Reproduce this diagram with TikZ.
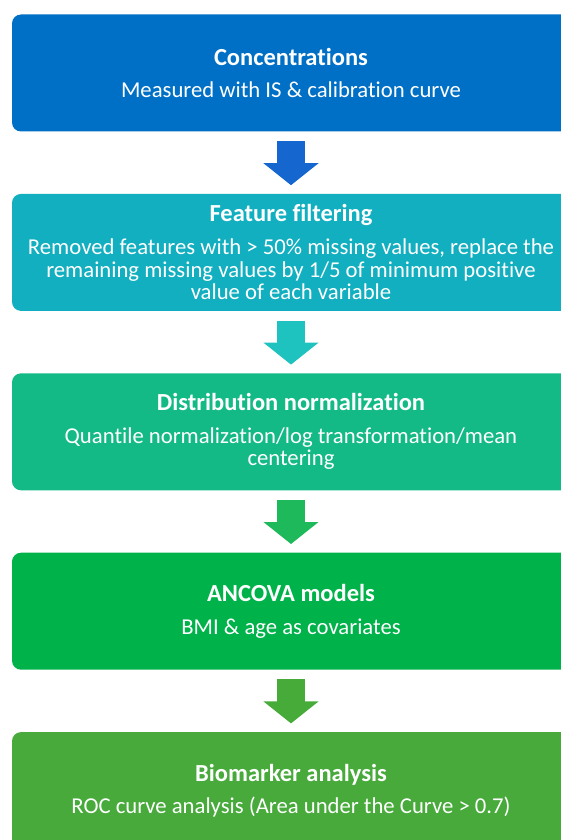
\documentclass[tikz,border=0pt]{standalone}
\usepackage{fontspec}
\setmainfont{Carlito}[Ligatures=NoCommon]
\usepackage{tikz}
\usetikzlibrary{positioning, arrows.meta}

\definecolor{boxA}{HTML}{0070C6}
\definecolor{boxB}{HTML}{12AFC0}
\definecolor{boxC}{HTML}{14BA86}
\definecolor{boxD}{HTML}{00B24A}
\definecolor{boxE}{HTML}{47AA3B}
\definecolor{arrA}{HTML}{1567CF}
\definecolor{arrB}{HTML}{1EC2BE}
\definecolor{arrC}{HTML}{1DB95A}
\definecolor{arrD}{HTML}{47AB3A}

\newcommand{\stagetitle}[1]{{\bfseries\fontsize{24.5}{24.5}\selectfont #1}\\[9.5pt]}

\begin{document}
\begin{tikzpicture}[x=1pt, y=-1pt,
  node distance=62pt,
  stage/.style={fill=#1, text=white, rounded corners=9pt,
    minimum width=558pt, minimum height=117pt, inner sep=0pt,
    align=center, font=\fontsize{22.7}{22.8}\selectfont},
  flow/.style={draw=#1, line width=28pt,
    -{Triangle[length=22pt, width=54pt]},
    shorten <=9.5pt, shorten >=8.5pt}]
\useasboundingbox (0,0) rectangle (561,840);
\clip (0,0) rectangle (561,840);

% Stages
\node[stage=boxA] (conc) at (291,73)
  {\stagetitle{Concentrations}Measured with IS \& calibration curve};
\node[stage=boxB, below=of conc] (filter)
  {\stagetitle{Feature filtering}Removed features with > 50\% missing values, replace the\\
   remaining missing values by 1/5 of minimum positive\\
   value of each variable};
\node[stage=boxC, below=of filter] (norm)
  {\stagetitle{Distribution normalization}Quantile normalization/log transformation/mean\\
   centering};
\node[stage=boxD, below=of norm] (ancova)
  {\stagetitle{ANCOVA models}BMI \& age as covariates};
\node[stage=boxE, below=of ancova] (biomark)
  {\stagetitle{Biomarker analysis}ROC curve analysis (Area under the Curve > 0.7)};

% Arrows
\draw[flow=arrA] (conc.south) -- (filter.north);
\draw[flow=arrB] (filter.south) -- (norm.north);
\draw[flow=arrC] (norm.south) -- (ancova.north);
\draw[flow=arrD] (ancova.south) -- (biomark.north);
\end{tikzpicture}
\end{document}
